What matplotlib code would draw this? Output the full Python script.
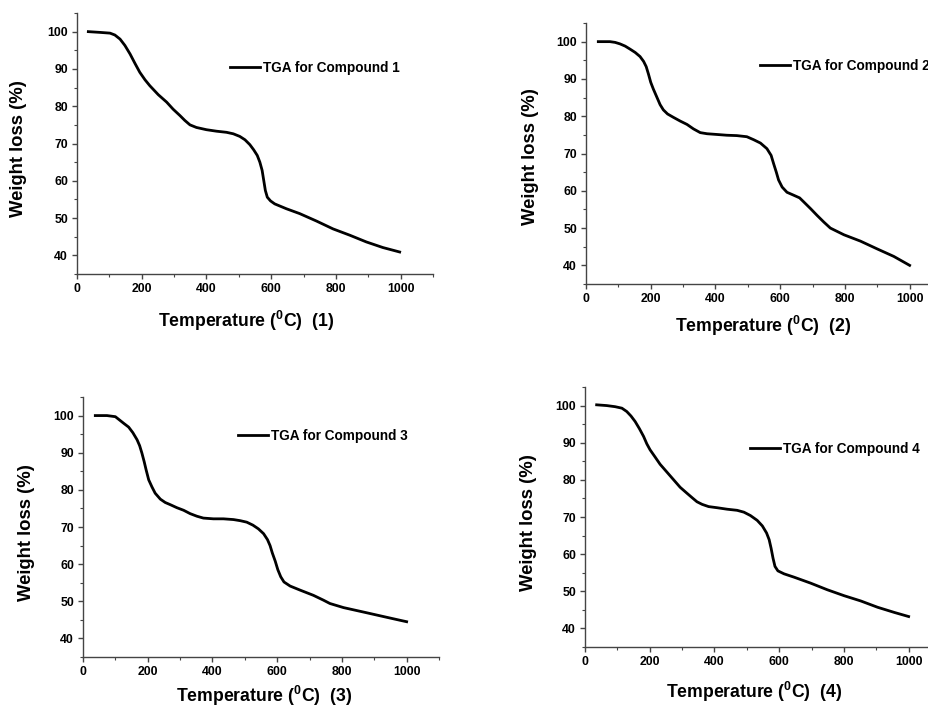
import matplotlib
matplotlib.use("Agg")
import matplotlib.pyplot as plt
from matplotlib.ticker import MultipleLocator

plt.rcParams['font.family'] = ['Liberation Sans', 'DejaVu Sans']
plt.rcParams['font.weight'] = 'bold'
plt.rcParams['mathtext.fontset'] = 'custom'
plt.rcParams['mathtext.rm'] = 'Liberation Sans:bold'
plt.rcParams['mathtext.it'] = 'Liberation Sans:bold'
plt.rcParams['mathtext.bf'] = 'Liberation Sans:bold'

# ---- data ----
t1 = [35, 71, 102, 117, 133, 148, 164, 179, 194, 210, 225, 251, 277, 297, 318, 333, 349, 369, 400, 431,
      462, 483, 503, 519, 534, 546, 557, 565, 572, 577, 582, 588, 598, 611, 647, 688, 740, 791, 843, 894, 945, 997]
w1 = [100, 99.8, 99.6, 99.1, 98.0, 96.3, 94.0, 91.5, 89.1, 87.1, 85.5, 83.1, 81.1, 79.2, 77.5, 76.2, 75.0, 74.3, 73.7, 73.3,
      73.0, 72.6, 71.9, 71.0, 69.7, 68.3, 66.8, 65.0, 62.8, 60.1, 57.4, 55.6, 54.6, 53.8, 52.5, 51.2, 49.2, 47.1, 45.4, 43.6, 42.1, 40.9]

t2 = [38, 74, 90, 105, 121, 136, 152, 167, 178, 186, 193, 200, 208, 219, 229, 239, 252, 270, 291, 312, 332, 353, 374,
      405, 435, 466, 497, 518, 539, 559, 572, 580, 588, 595, 606, 621, 642, 660, 673, 694, 714, 735, 755, 776, 797,
      848, 900, 951, 1000]
w2 = [100, 100, 99.8, 99.4, 98.8, 98.0, 97.1, 96.0, 94.7, 93.3, 91.3, 89.1, 87.3, 85.1, 83.1, 81.7, 80.6, 79.7, 78.7,
      77.8, 76.6, 75.6, 75.3, 75.1, 74.9, 74.8, 74.5, 73.7, 72.8, 71.3, 69.5, 67.2, 65.0, 62.9, 61.0, 59.6, 58.8, 58.1,
      57.0, 55.2, 53.4, 51.6, 50.0, 49.1, 48.2, 46.5, 44.4, 42.4, 40.0]

t3 = [38, 74, 100, 113, 126, 141, 154, 167, 175, 182, 189, 195, 203, 213, 223, 239, 254, 270, 290, 311, 331, 352, 372,
      403, 434, 465, 486, 506, 525, 542, 558, 570, 578, 585, 594, 602, 611, 621, 640, 671, 712, 743, 763, 805, 877,
      938, 979, 1000]
w3 = [100, 100, 99.7, 98.8, 97.9, 96.9, 95.4, 93.5, 91.9, 89.9, 87.6, 85.4, 82.7, 80.8, 79.1, 77.5, 76.6, 76.0, 75.2,
      74.5, 73.6, 72.9, 72.4, 72.2, 72.2, 72.0, 71.7, 71.3, 70.5, 69.5, 68.2, 66.6, 65.0, 63.0, 60.8, 58.5, 56.6, 55.2,
      54.1, 53.0, 51.6, 50.3, 49.4, 48.3, 46.9, 45.7, 44.9, 44.5]

t4 = [36, 67, 93, 114, 129, 142, 155, 168, 181, 191, 201, 217, 232, 253, 274, 294, 315, 331, 346, 362, 382, 408, 439,
      470, 491, 511, 532, 548, 561, 569, 575, 581, 587, 596, 615, 646, 697, 749, 801, 852, 904, 956, 1000]
w4 = [100.2, 100.0, 99.7, 99.3, 98.4, 97.2, 95.7, 93.8, 91.7, 89.7, 88.1, 86.1, 84.2, 82.1, 80.0, 78.0, 76.4, 75.2,
      74.1, 73.4, 72.8, 72.5, 72.1, 71.8, 71.3, 70.4, 69.1, 67.6, 65.7, 63.9, 61.6, 58.9, 56.7, 55.5, 54.7, 53.8, 52.2,
      50.4, 48.8, 47.4, 45.7, 44.3, 43.2]

series = [(t1, w1), (t2, w2), (t3, w3), (t4, w4)]
legend_labels = ["TGA for Compound 1", "TGA for Compound 2", "TGA for Compound 3", "TGA for Compound 4"]
xlabels = [r"Temperature ($^{0}$C)  (1)", r"Temperature ($^{0}$C)  (2)",
           r"Temperature ($^{0}$C)  (3)", r"Temperature ($^{0}$C)  (4)"]
ylabel = "Weight loss (%)"

W, H = 929, 707
fig = plt.figure(figsize=(W / 100, H / 100), dpi=100)

# axes rectangles in pixels: left, top, bottom
rects = [(77, 13, 274), (586, 23, 284), (83, 397, 657), (585, 387, 647)]
axw = 356
leg_anchor = [(0.430, 0.789), (0.489, 0.835), (0.435, 0.850), (0.463, 0.762)]
ylab_pos = [(-0.163, 0.48), (-0.157, 0.49), (-0.16, 0.48), (-0.16, 0.48)]
xlab_pos = [(0.474, -0.18), (0.497, -0.16), (0.508, -0.15), (0.475, -0.173)]

spine_col = '#444444'
for i, (t, w) in enumerate(series):
    l, top, bot = rects[i]
    ax = fig.add_axes([l / W, 1 - bot / H, axw / W, (bot - top) / H])
    ax.plot(t, w, color='black', lw=2.0, label=legend_labels[i], solid_joinstyle='round')
    ax.set_xlim(0, 1100)
    ax.set_ylim(35, 105)
    ax.set_xticks([0, 200, 400, 600, 800, 1000])
    ax.set_yticks([40, 50, 60, 70, 80, 90, 100])
    ax.xaxis.set_minor_locator(MultipleLocator(100))
    ax.yaxis.set_minor_locator(MultipleLocator(5))
    for s in ['top', 'right']:
        ax.spines[s].set_visible(False)
    for s in ['left', 'bottom']:
        ax.spines[s].set_color(spine_col)
        ax.spines[s].set_linewidth(1.0)
    ax.tick_params(which='major', direction='out', length=3.5, width=1.0, color=spine_col,
                   labelsize=8.8, pad=3)
    ax.tick_params(which='minor', direction='out', length=2, width=0.8, color=spine_col)
    for lab in ax.get_xticklabels() + ax.get_yticklabels():
        lab.set_fontweight('bold')
    ax.set_ylabel(ylabel, fontsize=13.3, fontweight='bold')
    ax.set_xlabel(xlabels[i], fontsize=12.7, fontweight='bold')
    ax.yaxis.set_label_coords(*ylab_pos[i])
    ax.xaxis.set_label_coords(*xlab_pos[i])
    ax.xaxis.label.set_va('center')
    ax.yaxis.label.set_va('center')
    ax.legend(loc='center left', bbox_to_anchor=leg_anchor[i], frameon=False,
              borderpad=0, borderaxespad=0, handlelength=2.2, handletextpad=0.25,
              prop={'size': 9.8, 'weight': 'bold'})

fig.savefig("out.png", dpi=100)
